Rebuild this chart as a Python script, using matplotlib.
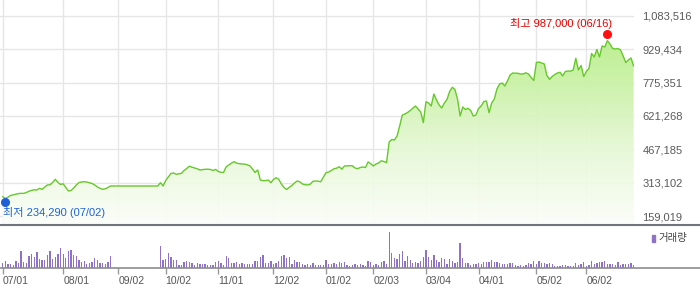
import numpy as np
import matplotlib
matplotlib.use("Agg")
import matplotlib.pyplot as plt
from matplotlib.colors import LinearSegmentedColormap
from matplotlib.patches import Rectangle
from matplotlib.transforms import offset_copy

FONT = ["Liberation Sans", "Noto Sans CJK KR", "DejaVu Sans"]

# daily closes, trading days 2024-07-01 .. 2025-06-30 (index = trading day)
close = [
    248200, 239900, 245900, 253800, 257000, 259800, 262600, 263900, 263500, 267600,
    273600, 277300, 280100, 279500, 286600, 282400, 293100, 302300, 303200, 313900,
    328600, 314500, 304600, 307800, 290700, 274600, 276900, 288400, 302300, 313400,
    316200, 317600, 316000, 312500, 309200, 302300, 293100, 287000, 282400, 284700,
    290700, 297700,
    297700, 297700, 297700, 297700, 297700, 297700, 297700, 297700, 297700,
    297700, 297700, 297700, 297700, 297700, 297700, 297700, 297700, 297700,
    312900, 297700, 323100, 339300, 355500, 357800, 351800, 354100, 356400, 369300,
    378600, 389200, 384600, 380900, 377200, 371600, 373500, 374900, 375500, 373900,
    369300, 374500, 364700, 361000, 360100, 386400, 394700, 403100, 410000, 403100,
    400800, 399400, 399000, 395700, 391000, 376300, 360100, 371600, 325400, 322200,
    322500, 325400, 312900, 327700, 336000, 328600, 306900, 290700, 281500, 291700,
    300000, 311500, 320800, 317100, 306900, 303700, 302300, 306000, 319400, 320800,
    319900, 317600, 339300, 359200, 362400, 369300, 377200, 380000, 386900, 375300,
    390100, 391000, 391500, 391000, 380900, 377600, 383200, 385500, 383200, 409100,
    400300, 390100, 399400, 404000, 414200, 410900, 405400, 501000, 512600, 510300,
    528800, 575000, 625800, 630500, 637400, 646600, 656800, 667400, 653600, 639700,
    590300, 687300, 681300, 667400, 722900, 695200, 672100, 658200, 681300, 697500,
    734500, 753900, 743700, 699800, 621200, 662800, 651300, 656800, 646600, 621200,
    625800, 655900, 667400, 688200, 690500, 636500, 681300, 699800, 746000, 769100,
    773700, 759900, 783000, 810700, 820000, 819000, 818600, 815300, 816000, 820900,
    815300, 799200, 785300, 868500, 870800, 866200, 861600, 808400, 790800, 803800,
    813000, 820000, 823200, 806100, 826900, 829200, 828500, 833800, 887900, 833800,
    854600, 803800, 826900, 840800, 910100, 893900, 928600, 893900, 944800, 940100,
    969300, 954000, 933200, 930900, 933200, 926300, 898500, 868500, 880100, 889300,
    852300,
]

# relative daily volume (no trading during the halt)
volume = [
    5.0, 7.3, 4.3, 4.3, 3.0, 7.3, 5.3, 17.3, 6.3, 5.3,
    12.3, 14.3, 11.3, 16.3, 9.3, 8.3, 8.3, 13.3, 17.3, 8.7,
    11.3, 14.3, 20.3, 14.3, 10.3, 17.3, 18.3, 13.3, 12.3, 8.3,
    6.3, 7.3, 4.3, 4.7, 5.7, 10.3, 8.3, 5.3, 5.3, 4.3,
    6.3, 12.3,
    0, 0, 0, 0, 0, 0, 0, 0, 0,
    0, 0, 0, 0, 0, 0, 0, 0, 0,
    22.3, 8.3, 9.3, 15.3, 11.3, 8.3, 8.3, 3.3, 3.3, 6.3,
    7.3, 6.3, 5.3, 3.3, 5.3, 4.3, 4.3, 4.3, 3.3, 3.3,
    3.3, 6.3, 7.3, 5.3, 3.3, 12.3, 10.3, 5.3, 5.3, 6.3,
    4.3, 5.3, 4.3, 4.3, 4.3, 4.3, 7.3, 7.3, 11.3, 13.3,
    5.3, 5.3, 7.3, 4.3, 5.3, 7.3, 12.3, 13.3, 10.3, 11.3,
    4.3, 8.3, 6.3, 6.3, 4.3, 3.3, 4.3, 3.3, 5.3, 3.3,
    3.3, 3.3, 3.3, 8.3, 4.3, 4.3, 5.3, 4.3, 6.3, 5.3,
    6.3, 3.3, 2.3, 3.3, 4.3, 3.3, 4.3, 3.3, 2.3, 7.3,
    6.3, 3.3, 4.3, 3.3, 6.3, 7.3, 4.3, 36.3, 15.3, 10.3,
    9.3, 14.3, 17.3, 7.3, 12.3, 8.3, 5.3, 6.3, 5.3, 7.3,
    11.3, 18.3, 11.3, 8.3, 13.3, 8.3, 6.3, 10.3, 9.3, 4.3,
    9.3, 7.3, 5.3, 6.3, 25.3, 10.3, 5.3, 5.3, 3.3, 4.3,
    4.3, 5.3, 4.3, 6.3, 6.3, 6.3, 8.3, 6.3, 6.3, 5.3,
    4.3, 4.3, 4.3, 5.3, 5.3, 3.3, 2.3, 3.3, 2.3, 3.3,
    5.3, 4.3, 7.3, 4.3, 7.3, 5.3, 5.3, 4.3, 5.3, 4.3,
    2.3, 2.3, 2.3, 3.3, 3.3, 2.3, 2.3, 2.3, 5.3, 3.3,
    4.3, 6.3, 2.3, 3.3, 7.3, 4.3, 5.3, 6.3, 6.3, 7.3,
    4.3, 4.3, 4.3, 3.3, 6.3, 3.3, 4.3, 4.3, 4.3, 5.3,
    3.3,
]

month_idx = [0, 23, 44, 62, 82, 103, 123, 141, 161, 181, 203, 222]
month_labels = ["07/01", "08/01", "09/02", "10/02", "11/01", "12/02",
                "01/02", "02/03", "03/04", "04/01", "05/02", "06/02"]
price_ticks = [159019, 313102, 467185, 621268, 775351, 929434, 1083516]

low_idx, low_val, low_date = 1, 234290, "07/02"
high_idx, high_val, high_date = 230, 987000, "06/16"

fig = plt.figure(figsize=(7, 2.89), dpi=100)
ax = fig.add_axes([0, 64 / 289, 634 / 700, 225 / 289])
axv = fig.add_axes([0, 21 / 289, 1.0, 43 / 289])

x = np.arange(len(close))
ppu = 2.629  # pixels per trading day
x0 = -2.7 / ppu
x1 = x0 + 634 / ppu
y_lo, y_hi = 117421, 1157371

# price line + gradient fill
ax.plot(x, close, color="#66c82a", lw=1.0, zorder=4)
poly = ax.fill_between(x, close, y_lo, color="none", lw=0)
grad = np.linspace(0, 1, 256).reshape(-1, 1)
cmap = LinearSegmentedColormap.from_list("g", ["#fcfefa", "#e6f8d6", "#c6f1a0", "#abe878"])
im = ax.imshow(grad, extent=[x0, x1, y_lo, y_hi], origin="lower", aspect="auto",
               cmap=cmap, zorder=2, alpha=0.93)
im.set_clip_path(poly.get_paths()[0], transform=ax.transData)

ax.set_xlim(x0, x1)
ax.set_ylim(y_lo, y_hi)
ax.set_xticks(month_idx)
ax.set_yticks(price_ticks)
ax.set_yticklabels([f"{v:,}" for v in price_ticks], family=FONT)
ax.yaxis.tick_right()
ax.tick_params(axis="y", length=0, pad=6, labelsize=8, labelcolor="#5a5a5a")
ax.tick_params(axis="x", length=0, labelbottom=False)
ax.grid(color="#e6e6e6", lw=1)
ax.set_axisbelow(True)
for s in ax.spines.values():
    s.set_visible(False)

# low / high markers
ax.plot(low_idx, low_val, "o", ms=5.5, color="#1f5fd6", zorder=5,
        transform=offset_copy(ax.transData, fig, y=-2.5, units="dots"))
ax.plot(high_idx, high_val, "o", ms=5.5, color="#ff1010", zorder=5,
        transform=offset_copy(ax.transData, fig, y=3, units="dots"))
ax.annotate(f"최저 {low_val:,} ({low_date})", xy=(low_idx, low_val),
            xytext=(-1.9, -9.4), textcoords="offset points", ha="left", va="center",
            color="#1f62d6", fontsize=8, family=FONT)
ax.annotate(f"최고 {high_val:,} ({high_date})", xy=(high_idx, high_val),
            xytext=(3.3, 9.3), textcoords="offset points", ha="right", va="center",
            color="#e80000", fontsize=8, family=FONT)

# volume panel
axv.bar(x, volume, width=0.5, color="#8e72c6", lw=0)
axv.set_xlim(x0, x0 + 700 / ppu)
axv.set_ylim(0, 43)
axv.set_yticks([])
axv.set_xticks(month_idx)
axv.set_xticklabels(month_labels, ha="left", family=FONT)
axv.tick_params(axis="x", length=4, width=1, color="#999999", pad=1.5,
                labelsize=7.5, labelcolor="#555555")
axv.spines["left"].set_visible(False)
axv.spines["right"].set_visible(False)
axv.spines["top"].set_color("#70757a")
axv.spines["top"].set_linewidth(1.5)
axv.spines["bottom"].set_color("#8c8c8c")
axv.spines["bottom"].set_linewidth(1.2)

fig.patches.append(Rectangle((652 / 700, 1 - 242 / 289), 3 / 700, 7.5 / 289,
                             transform=fig.transFigure, color="#8e72c6"))
fig.text(658 / 700, 1 - 238 / 289, "거래량", fontsize=7.5, color="#444444",
         va="center", family=FONT)

fig.savefig("out.png", dpi=100)
